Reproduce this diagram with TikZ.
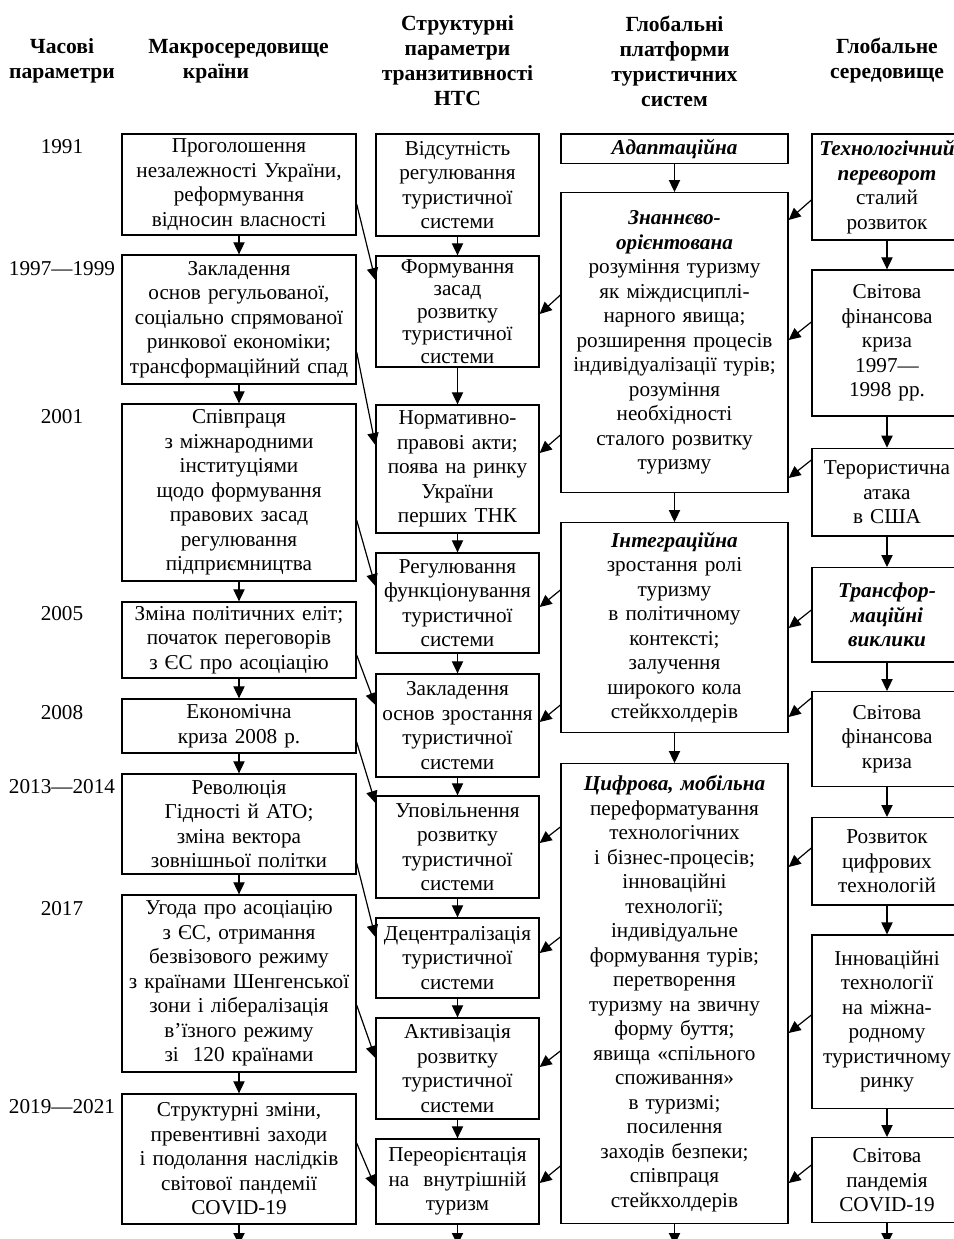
\documentclass[tikz,border=0pt]{standalone}
\usepackage{fontspec}
\setmainfont{Liberation Serif}
\usetikzlibrary{arrows.meta,calc}
\newcommand\bi[1]{\textbf{\textit{#1}}}
\begin{document}
\begin{tikzpicture}[x=0.5pt,y=-0.5pt,
  font=\fontsize{10.6pt}{12.25pt}\selectfont,
  box/.style={draw, line width=0.65pt, align=center, inner xsep=1pt, inner ysep=1pt, anchor=center},
  colA/.style={box, text width=115pt},
  colB/.style={box, text width=79.5pt},
  colC/.style={box, text width=111.5pt},
  colD/.style={box, text width=73pt},
  year/.style={inner sep=0pt, anchor=center},
  hdr/.style={align=center, inner sep=0pt, font=\fontsize{10.8pt}{12.5pt}\selectfont\bfseries},
  arr/.style={line width=0.6pt, -{Triangle[length=6pt,width=5.6pt]}}
]
\useasboundingbox (0,0) rectangle (954,1239);

% headers
\node[hdr] (h1) at (62,61) {Часові\\параметри};
\node[hdr] (h2) at (238.5,61) {Макросередовище\\країни\hspace*{22.5pt}};
\node[hdr] (h3) at (457.5,61) {Структурні\\параметри\\транзитивності\\НТС};
\node[hdr] (h4) at (674.5,61) {Глобальні\\платформи\\туристичних\\систем};
\node[hdr] (h5) at (887,61) {Глобальне\\середовище};

% column A
\node[colA, minimum height=50.5pt] (A1) at (239,184.5) {Проголошення\\незалежності України,\\реформування\\відносин власності};
\node[colA, minimum height=64.5pt] (A2) at (239,319.5) {Закладення\\основ регульованої,\\соціально спрямованої\\ринкової економіки;\\трансформаційний спад};
\node[colA, minimum height=88.5pt] (A3) at (239,492.5) {Співпраця\\з міжнародними\\інституціями\\щодо формування\\правових засад\\регулювання\\підприємництва};
\node[colA, minimum height=38pt] (A4) at (239,640) {Зміна політичних еліт;\\початок переговорів\\з ЄС про асоціацію};
\node[colA, minimum height=27pt] (A5) at (239,726) {Економічна\\криза 2008 р.};
\node[colA, minimum height=50pt] (A6) at (239,824) {Революція\\Гідності й АТО;\\зміна вектора\\зовнішньої політки};
\node[colA, minimum height=88.5pt] (A7) at (239,983.5) {Угода про асоціацію\\з ЄС, отримання\\безвізового режиму\\з країнами Шенгенської\\зони і лібералізація\\в’їзного режиму\\зі\ \ 120 країнами};
\node[colA, minimum height=65pt] (A8) at (239,1159) {Структурні зміни,\\превентивні заходи\\і подолання наслідків\\світової пандемії\\COVID-19};
\coordinate (eA) at (239,1245);

% years
\node[year] (y1) at (62,147) {1991};
\node[year] (y2) at (62,269) {1997—1999};
\node[year] (y3) at (62,417) {2001};
\node[year] (y4) at (62,614) {2005};
\node[year] (y5) at (62,713) {2008};
\node[year] (y6) at (62,787) {2013—2014};
\node[year] (y7) at (62,909) {2017};
\node[year] (y8) at (62,1107) {2019—2021};

% column B
\node[colB, minimum height=51pt] (B1) at (457.5,185) {Відсутність\\регулювання\\туристичної\\системи};
\node[colB, minimum height=55.5pt, font=\fontsize{10.6pt}{11.3pt}\selectfont] (B2) at (457.5,311.5) {Формування\\засад\\розвитку\\туристичної\\системи};
\node[colB, minimum height=64pt] (B3) at (457.5,469) {Нормативно-\\правові акти;\\поява на ринку\\України\\перших ТНК};
\node[colB, minimum height=50pt] (B4) at (457.5,603) {Регулювання\\функціонування\\туристичної\\системи};
\node[colB, minimum height=51.5pt] (B5) at (457.5,725.5) {Закладення\\основ зростання\\туристичної\\системи};
\node[colB, minimum height=51pt] (B6) at (457.5,847) {Уповільнення\\розвитку\\туристичної\\системи};
\node[colB, minimum height=40pt] (B7) at (457.5,958) {Децентралізація\\туристичної\\системи};
\node[colB, minimum height=50.5pt] (B8) at (457.5,1068.5) {Активізація\\розвитку\\туристичної\\системи};
\node[colB, minimum height=42.5pt] (B9) at (457.5,1181.5) {Переорієнтація\\на\ \ внутрішній\\туризм};
\coordinate (eB) at (457.5,1245);

% column C
\node[colC, minimum height=14.65pt] (C1) at (674.5,148.7) {\bi{Адаптаційна}};
\node[colC, minimum height=149.8pt] (C2) at (674.5,342.5) {\bi{Знаннєво-}\\\bi{орієнтована}\\розуміння туризму\\як міждисциплі-\\нарного явища;\\розширення процесів\\індивідуалізації турів;\\розуміння\\необхідності\\сталого розвитку\\туризму};
\node[colC, minimum height=105pt] (C3) at (674.5,627.7) {\bi{Інтеграційна}\\зростання ролі\\туризму\\в політичному\\контексті;\\залучення\\широкого кола\\стейкхолдерів};
\node[colC, minimum height=229.8pt] (C4) at (674.5,993.5) {\bi{Цифрова, мобільна}\\переформатування\\технологічних\\і бізнес-процесів;\\інноваційні\\технології;\\індивідуальне\\формування турів;\\перетворення\\туризму на звичну\\форму буття;\\явища «спільного\\споживання»\\в туризмі;\\посилення\\заходів безпеки;\\співпраця\\стейкхолдерів};
\coordinate (eC) at (674.5,1245);

% column D
\node[colD, minimum height=53pt] (D1) at (887,187) {\bi{Технологічний}\\\bi{переворот}\\сталий\\розвиток};
\node[colD, minimum height=73pt] (D2) at (887,343) {Світова\\фінансова\\криза\\1997—\\1998 рр.};
\node[colD, minimum height=43.85pt] (D3) at (887,492.2) {Терористична\\атака\\в США};
\node[colD, minimum height=47.15pt] (D4) at (887,614.8) {\bi{Трансфор-}\\\bi{маційні}\\\bi{виклики}};
\node[colD, minimum height=47.5pt] (D5) at (887,739.2) {Світова\\фінансова\\криза};
\node[colD, minimum height=43.65pt] (D6) at (887,861.3) {Розвиток\\цифрових\\технологій};
\node[colD, minimum height=86.65pt] (D7) at (887,1021.7) {Інноваційні\\технології\\на міжна-\\родному\\туристичному\\ринку};
\node[colD, minimum height=42.5pt] (D8) at (887,1180.2) {Світова\\пандемія\\COVID-19};
\coordinate (eD) at (887,1245);

% vertical arrows
\foreach \c/\n in {A/8,B/9,C/4,D/8}{
  \foreach \i [evaluate=\i as \j using int(\i+1)] in {1,...,\n}{
    \ifnum\i<\n
      \draw[arr] (\c\i.south) -- (\c\j.north);
    \else
      \draw[arr] (\c\i.south) -- (e\c);
    \fi
  }
}

% A -> B diagonals
\draw[arr] (A1.east |- 0,204) -- (B2.west |- 0,280);
\draw[arr] (A2.east |- 0,352) -- (B3.west |- 0,445);
\draw[arr] (A3.east |- 0,520) -- (B4.west |- 0,586);
\draw[arr] (A4.east |- 0,655) -- (B5.west |- 0,705);
\draw[arr] (A5.east |- 0,742) -- (B6.west |- 0,803);
\draw[arr] (A6.east |- 0,863) -- (B7.west |- 0,937);
\draw[arr] (A7.east |- 0,1005) -- (B8.west |- 0,1058);
\draw[arr] (A8.east |- 0,1143) -- (B9.west |- 0,1187);

% C -> B
\draw[arr] (C2.west |- 0,295) -- (B2.east |- 0,314);
\draw[arr] (C2.west |- 0,435) -- (B3.east |- 0,453);
\draw[arr] (C3.west |- 0,590) -- (B4.east |- 0,607);
\draw[arr] (C3.west |- 0,705) -- (B5.east |- 0,722);
\draw[arr] (C4.west |- 0,827) -- (B6.east |- 0,843);
\draw[arr] (C4.west |- 0,937) -- (B7.east |- 0,953);
\draw[arr] (C4.west |- 0,1051) -- (B8.east |- 0,1067);
\draw[arr] (C4.west |- 0,1166) -- (B9.east |- 0,1183);

% D -> C
\draw[arr] (D1.west |- 0,200) -- (C2.east |- 0,220);
\draw[arr] (D2.west |- 0,322) -- (C2.east |- 0,340);
\draw[arr] (D3.west |- 0,460) -- (C2.east |- 0,478);
\draw[arr] (D4.west |- 0,610) -- (C3.east |- 0,628);
\draw[arr] (D5.west |- 0,698) -- (C3.east |- 0,717);
\draw[arr] (D6.west |- 0,848) -- (C4.east |- 0,867);
\draw[arr] (D7.west |- 0,1015) -- (C4.east |- 0,1033);
\draw[arr] (D8.west |- 0,1165) -- (C4.east |- 0,1183);
\end{tikzpicture}
\end{document}
